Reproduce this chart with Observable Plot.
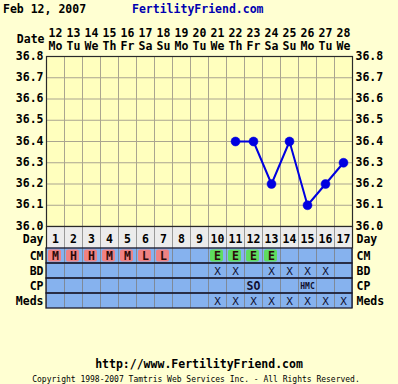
<!DOCTYPE html>
<html>
<head>
<meta charset="utf-8">
<script src="https://cdn.jsdelivr.net/npm/d3@7"></script>
<script src="https://cdn.jsdelivr.net/npm/@observablehq/plot@0.6"></script>
<style>
  html, body { margin: 0; padding: 0; background: #ffffd2; }
  #chart { position: relative; width: 398px; height: 384px; background: #ffffd2; overflow: hidden; font-family: "DejaVu Sans Mono", monospace; }
  .abs { position: absolute; white-space: nowrap; }
  #chart svg { overflow: visible; }
</style>
</head>
<body>
<div id="chart">
  <div class="abs" style="left:3px;top:3px;font-size:11.5px;line-height:13px;font-weight:bold;color:#000;">Feb 12, 2007</div>
  <div class="abs" style="left:132px;top:3px;font-size:11.5px;line-height:13px;font-weight:bold;color:#0000b0;">FertilityFriend.com</div>
  <div class="abs" id="pA" style="left:0;top:0;"></div>
  <div class="abs" id="pD" style="left:0;top:226px;"></div>
  <div class="abs" id="pB" style="left:0;top:248px;"></div>
  <div class="abs" style="left:0;width:398px;text-align:center;top:357.5px;font-size:11.5px;line-height:13px;font-weight:bold;color:#000;">http://www.FertilityFriend.com</div>
  <div class="abs" style="left:0;width:392px;text-align:center;top:375px;font-size:8px;line-height:10px;color:#000;">Copyright 1998-2007 Tamtris Web Services Inc. - All Rights Reserved.</div>
</div>
<script>
// ---- data ----
const dayNumbers = [1,2,3,4,5,6,7,8,9,10,11,12,13,14,15,16,17];
const dateLabels = ["12","13","14","15","16","17","18","19","20","21","22","23","24","25","26","27","28"];
const weekdayLabels = ["Mo","Tu","We","Th","Fr","Sa","Su","Mo","Tu","We","Th","Fr","Sa","Su","Mo","Tu","We"];
const tempDays = [11,12,13,14,15,16,17];
const temps = [36.4,36.4,36.2,36.4,36.1,36.2,36.3];
const tempTicks = [36.0,36.1,36.2,36.3,36.4,36.5,36.6,36.7,36.8];
const rowLabels = ["CM","BD","CP","Meds"];
const cmDays = [1,2,3,4,5,6,7,10,11,12,13];
const cmCodes = ["M","H","H","M","M","L","L","E","E","E","E"];
const bdDays = [10,11,13,14,15,16];
const cpDays = [12,15];
const cpCodes = ["SO","HMC"];
const medDays = [10,11,12,13,14,15,16,17];

// ---- styling ----
const FONT = "DejaVu Sans Mono";
const plotBg = "#ffffbe";
const gridColor = "#aaa590";
const borderColor = "#2a2a2a";
const blue = "#0000e0";
const tableBlue = "#86b2ee";
const dayBg = "#ececec";

const bounds = [dayNumbers[0] - 0.5, ...dayNumbers.map(d => d + 0.5)];
const xDomain = [bounds[0], bounds[bounds.length - 1]];
const tempData = tempDays.map((d, i) => ({day: d, temp: temps[i]}));
const txt = {fontFamily: FONT, fontWeight: "bold", fontSize: 11.5, fill: "#000"};

// ---- temperature plot ----
const pA = Plot.plot({
  width: 398, height: 226,
  marginTop: 56, marginBottom: 0, marginLeft: 46, marginRight: 46,
  style: {background: "transparent", overflow: "visible"},
  x: {domain: xDomain, axis: null},
  y: {domain: [tempTicks[0], tempTicks[tempTicks.length - 1]], axis: null},
  marks: [
    Plot.frame({fill: plotBg}),
    Plot.ruleY(tempTicks, {y: d => d, stroke: gridColor, strokeWidth: 1}),
    Plot.ruleX(bounds, {x: d => d, stroke: gridColor, strokeWidth: 1}),
    Plot.frame({stroke: borderColor, strokeWidth: 1.2}),
    Plot.line(tempData, {x: "day", y: "temp", stroke: blue, strokeWidth: 2}),
    Plot.dot(tempData, {x: "day", y: "temp", r: 4.5, fill: blue, stroke: blue, strokeWidth: 0.5}),
    Plot.text(dayNumbers, {x: d => d, text: d => dateLabels[d - 1], frameAnchor: "top", lineAnchor: "middle", dy: -23, ...txt}),
    Plot.text(dayNumbers, {x: d => d, text: d => weekdayLabels[d - 1], frameAnchor: "top", lineAnchor: "middle", dy: -10, ...txt}),
    Plot.text(["Date"], {text: d => d, frameAnchor: "top-left", lineAnchor: "middle", textAnchor: "end", dx: -2, dy: -17.5, ...txt}),
    Plot.text(tempTicks, {y: d => d, text: d => d.toFixed(1), frameAnchor: "left", textAnchor: "end", dx: -3, dy: -0.5, ...txt}),
    Plot.text(tempTicks, {y: d => d, text: d => d.toFixed(1), frameAnchor: "right", textAnchor: "start", dx: 3, dy: -0.5, ...txt})
  ]
});
document.getElementById("pA").appendChild(pA);

// ---- day row ----
const pD = Plot.plot({
  width: 398, height: 22,
  marginTop: 0, marginBottom: 0, marginLeft: 46, marginRight: 46,
  style: {background: "transparent", overflow: "visible"},
  x: {domain: xDomain, axis: null},
  y: {domain: ["Day"], axis: null, padding: 0},
  marks: [
    Plot.barX(dayNumbers, {x1: d => d - 0.5, x2: d => d + 0.5, y: () => "Day", fill: dayBg, inset: 0}),
    Plot.ruleX(bounds, {x: d => d, stroke: "#9a9a9a"}),
    Plot.frame({stroke: borderColor, strokeWidth: 1.2}),
    Plot.text(dayNumbers, {x: d => d, y: () => "Day", text: d => String(d), dy: 2, ...txt}),
    Plot.text(["Day"], {y: d => d, text: d => d, frameAnchor: "left", textAnchor: "end", dx: -3, dy: 2, ...txt}),
    Plot.text(["Day"], {y: d => d, text: d => d, frameAnchor: "right", textAnchor: "start", dx: 4, dy: 2, ...txt})
  ]
});
document.getElementById("pD").appendChild(pD);

// ---- observation rows ----
const cells = rowLabels.flatMap(r => dayNumbers.map(d => ({row: r, day: d})));
const cmData = cmDays.map((d, i) => ({day: d, code: cmCodes[i]}));
const cpData = cpDays.map((d, i) => ({day: d, code: cpCodes[i]}));
const pB = Plot.plot({
  width: 398, height: 60,
  marginTop: 0, marginBottom: 0, marginLeft: 46, marginRight: 46,
  style: {background: "transparent", overflow: "visible"},
  x: {domain: xDomain, axis: null},
  y: {domain: rowLabels, axis: null, padding: 0},
  marks: [
    Plot.barX(cells, {x1: d => d.day - 0.5, x2: d => d.day + 0.5, y: "row", fill: tableBlue, inset: 0}),
    Plot.barX(cmData, {x1: d => d.day - 0.5, x2: d => d.day + 0.5, y: () => "CM",
      fill: d => d.code === "E" ? "#5fdc5f" : "#ef8282", insetLeft: 2, insetRight: 3, insetTop: 1.5, insetBottom: 1.5, rx: 2}),
    Plot.ruleX(bounds, {x: d => d, stroke: "#7f8a99"}),
    Plot.barX(rowLabels, {x1: () => xDomain[0], x2: () => xDomain[1], y: d => d, fill: "none", stroke: "#1c1c30", strokeWidth: 1.3, inset: 0}),
    Plot.text(cmData, {x: "day", y: () => "CM", text: "code", ...txt, fill: "#2a0a0a"}),
    Plot.text(bdDays, {x: d => d, y: () => "BD", text: () => "X", fontFamily: FONT, fontSize: 11, fill: "#101030"}),
    Plot.text(cpData, {x: "day", y: () => "CP", text: "code", fontFamily: FONT, fontWeight: "bold",
      fontSize: d => d.code.length > 2 ? 8 : 11.5, fill: "#101030"}),
    Plot.text(medDays, {x: d => d, y: () => "Meds", text: () => "X", fontFamily: FONT, fontSize: 11, fill: "#101030"}),
    Plot.text(rowLabels, {y: d => d, text: d => d, frameAnchor: "left", textAnchor: "end", dx: -3, ...txt}),
    Plot.text(rowLabels, {y: d => d, text: d => d, frameAnchor: "right", textAnchor: "start", dx: 4, ...txt})
  ]
});
document.getElementById("pB").appendChild(pB);
</script>
</body>
</html>
